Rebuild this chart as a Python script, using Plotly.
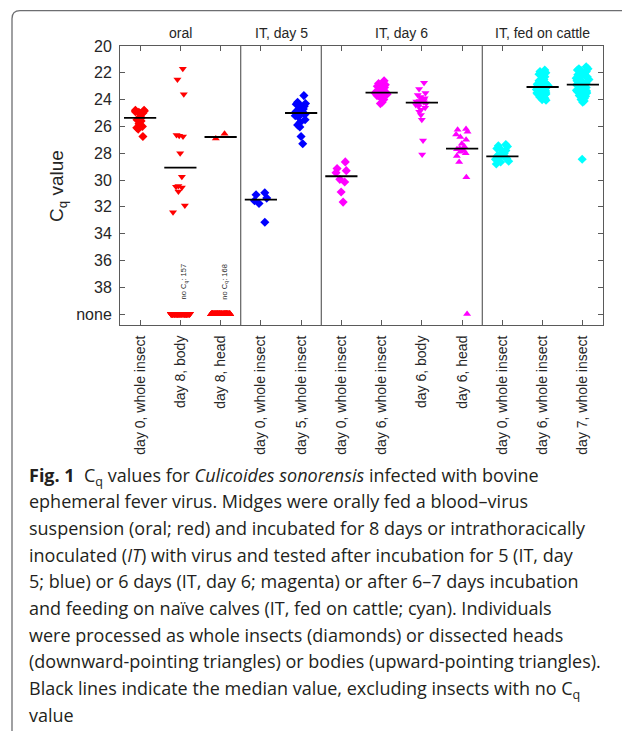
import plotly.graph_objects as go

# ---------------- data ----------------
category_labels = [
    "day 0, whole insect", "day 8, body", "day 8, head",
    "day 0, whole insect", "day 5, whole insect",
    "day 0, whole insect", "day 6, whole insect", "day 6, body", "day 6, head",
    "day 0, whole insect", "day 6, whole insect", "day 7, whole insect",
]
panel_titles = ["oral", "IT, day 5", "IT, day 6", "IT, fed on cattle"]
panel_sizes = [3, 2, 4, 3]
panel_colors = ["#FF0000", "#0000FF", "#FF00FF", "#00FFFF"]

y_tick_vals = [20, 22, 24, 26, 28, 30, 32, 34, 36, 38, 40]
y_tick_text = ["20", "22", "24", "26", "28", "30", "32", "34", "36", "38", "none"]
NONE_Y = 40

# sample type per category: whole insect / body / head
sample_type = ["whole", "body", "head", "whole", "whole",
               "whole", "whole", "body", "head", "whole", "whole", "whole"]

oral_d0 = [24.8, 24.8, 24.85, 24.9, 24.95, 25.0, 25.05, 25.35, 25.4, 25.5,
           25.6, 25.8, 26.0, 26.1, 26.2, 26.75]
oral_d8_body = [21.7, 22.5, 23.6, 26.65, 26.7, 26.75, 28.0, 29.75, 30.45,
                30.5, 30.55, 30.85, 31.9, 32.4]
oral_d8_head = [26.55, 26.9]
it5_d0 = [30.95, 31.1, 31.35, 31.55, 31.75, 33.15]
it5_d5 = [23.7, 24.2, 24.3, 24.35, 24.4, 24.5, 24.6, 24.7, 24.8, 24.9, 25.0,
          25.05, 25.1, 25.2, 25.3, 25.5, 25.7, 25.9, 26.05, 26.75, 27.3]
it6_d0 = [28.65, 29.15, 29.3, 29.45, 29.95, 30.15, 30.9, 31.65]
it6_d6_whole = [22.6, 22.8, 22.9, 23.0, 23.1, 23.1, 23.2, 23.3, 23.3, 23.4,
                23.4, 23.5, 23.5, 23.5, 23.6, 23.6, 23.7, 23.7, 23.8, 23.9,
                24.0, 24.2, 24.3]
it6_d6_body = [22.75, 23.2, 23.5, 23.65, 23.8, 23.9, 24.0, 24.05, 24.1, 24.15,
               24.2, 24.25, 24.3, 24.4, 24.5, 24.6, 24.75, 24.9, 25.15, 25.5,
               27.05, 28.1]
it6_d6_head = [26.2, 26.25, 26.4, 26.6, 26.8, 27.0, 27.3, 27.5, 27.65, 27.7,
               27.8, 27.9, 28.0, 28.2, 28.65, 29.8]
cattle_d0 = [27.35, 27.45, 27.5, 27.65, 27.7, 27.8, 27.95, 28.0, 28.1, 28.2,
             28.25, 28.3, 28.4, 28.45, 28.5, 28.6, 28.65, 28.8]
cattle_d6 = [21.8, 21.9, 22.0, 22.1, 22.2, 22.3, 22.4, 22.5, 22.55, 22.6,
             22.7, 22.75, 22.8, 22.85, 22.9, 22.95, 23.0, 23.05, 23.1, 23.1,
             23.15, 23.2, 23.2, 23.25, 23.3, 23.3, 23.35, 23.4, 23.4, 23.5,
             23.5, 23.6, 23.6, 23.7, 23.75, 23.8, 23.9, 24.0, 24.05]
cattle_d7 = [21.55, 21.7, 21.7, 21.8, 21.85, 21.9, 22.0, 22.0, 22.1, 22.15,
             22.2, 22.3, 22.3, 22.4, 22.45, 22.5, 22.6, 22.6, 22.7, 22.75,
             22.8, 22.85, 22.9, 22.9, 23.0, 23.05, 23.1, 23.2, 23.2, 23.3,
             23.35, 23.4, 23.5, 23.5, 23.6, 23.7, 23.75, 23.85, 23.9, 24.0,
             24.1, 24.2, 28.45]

group_values = [oral_d0, oral_d8_body, oral_d8_head, it5_d0, it5_d5, it6_d0,
                it6_d6_whole, it6_d6_body, it6_d6_head, cattle_d0, cattle_d6,
                cattle_d7]
# insects with no Cq per category
none_counts = [0, 157, 168, 0, 0, 0, 0, 0, 1, 0, 0, 0]
# median lines as drawn in the reference
medians = [25.37, 29.08, 26.79, 31.46, 25.0, 29.72, 23.48, 24.23, 27.66,
           28.23, 23.06, 22.88]

caption_lines = [
    "<b>Fig. 1</b>\u00a0\u00a0C<sub>q</sub> values for <i>Culicoides sonorensis</i> infected with bovine",
    "ephemeral fever virus. Midges were orally fed a blood\u2013virus",
    "suspension (oral; red) and incubated for 8 days or intrathoracically",
    "inoculated (<i>IT</i>) with virus and tested after incubation for 5 (IT, day",
    "5; blue) or 6 days (IT, day 6; magenta) or after 6\u20137 days incubation",
    "and feeding on na\u00efve calves (IT, fed on cattle; cyan). Individuals",
    "were processed as whole insects (diamonds) or dissected heads",
    "(downward-pointing triangles) or bodies (upward-pointing triangles).",
    "Black lines indicate the median value, excluding insects with no C<sub>q</sub>",
    "value",
]

# ---------------- layout geometry ----------------
W, H = 622, 731
ML, MR, MT, MB = 120, 19, 46, 406
PW = W - ML - MR
PH = H - MT - MB


def px2x(px):
    return (px - ML) / PW


def py2y(py):
    return 1 - (py - MT) / PH


symbol_map = {"whole": "diamond", "body": "triangle-down", "head": "triangle-up"}

# colour per category from panels
cat_colors = []
for c, n in zip(panel_colors, panel_sizes):
    cat_colors += [c] * n

positions = list(range(1, len(category_labels) + 1))

fig = go.Figure()

for i, pos in enumerate(positions):
    sym = symbol_map[sample_type[i]]
    col = cat_colors[i]
    vals = group_values[i]
    fig.add_trace(go.Box(
        y=vals, x0=pos, width=0.5, boxpoints="all", jitter=0.75, pointpos=0,
        fillcolor="rgba(0,0,0,0)", line=dict(width=0, color="rgba(0,0,0,0)"),
        whiskerwidth=0,
        marker=dict(symbol=sym, size=7, color=col, line=dict(width=0)),
        hoverinfo="skip", showlegend=False,
    ))
    if none_counts[i] > 0:
        fig.add_trace(go.Box(
            y=[NONE_Y] * none_counts[i], x0=pos, width=0.5, boxpoints="all",
            jitter=0.95, pointpos=0,
            fillcolor="rgba(0,0,0,0)", line=dict(width=0, color="rgba(0,0,0,0)"),
            whiskerwidth=0,
            marker=dict(symbol=sym, size=7, color=col, line=dict(width=0)),
            hoverinfo="skip", showlegend=False,
        ))

# median lines
mx, my = [], []
for pos, m in zip(positions, medians):
    mx += [pos - 0.4, pos + 0.4, None]
    my += [m, m, None]
fig.add_trace(go.Scatter(x=mx, y=my, mode="lines",
                         line=dict(color="black", width=1.8),
                         hoverinfo="skip", showlegend=False))

shapes = []
annotations = []

# panel dividers and titles
start = 0.5
for k, n in enumerate(panel_sizes):
    end = start + n
    if k < len(panel_sizes) - 1:
        shapes.append(dict(type="line", xref="x", yref="paper", x0=end, x1=end,
                           y0=0, y1=1, line=dict(color="#404040", width=1)))
    annotations.append(dict(text=panel_titles[k], xref="x", yref="paper",
                            x=(start + end) / 2, y=py2y(33), showarrow=False,
                            xanchor="center", yanchor="middle",
                            font=dict(family="Liberation Sans, Arial", size=14,
                                      color="#262626")))
    start = end

# no-Cq annotations
for i, pos in enumerate(positions):
    if none_counts[i] > 1:
        annotations.append(dict(
            text="no C<sub>q</sub>: %d" % none_counts[i], xref="x", yref="paper",
            x=pos, xshift=4, y=py2y(282), textangle=-90, showarrow=False,
            xanchor="center", yanchor="middle",
            font=dict(family="Liberation Sans, Arial", size=7.5, color="#262626")))

# y-axis title
annotations.append(dict(text="C<sub>q</sub> value", xref="paper", yref="paper",
                        x=px2x(58), y=py2y(186), textangle=-90, showarrow=False,
                        xanchor="center", yanchor="middle",
                        font=dict(family="Liberation Sans, Arial", size=19,
                                  color="#262626")))

# caption
cap_y0, cap_step = 473, 26.7
for j, line in enumerate(caption_lines):
    annotations.append(dict(text=line, xref="paper", yref="paper",
                            x=px2x(27), y=py2y(cap_y0 + j * cap_step - 12.5),
                            xanchor="left", yanchor="top", align="left",
                            showarrow=False,
                            font=dict(family="Open Sans", size=18,
                                      color="#231f20")))

# page frame with rounded top-left corner
fx0, fy0 = 12, 10.7
r = 8
path = "M %f,%f L %f,%f Q %f,%f %f,%f L %f,%f" % (
    px2x(fx0), py2y(H), px2x(fx0), py2y(fy0 + r), px2x(fx0), py2y(fy0),
    px2x(fx0 + r), py2y(fy0), px2x(W + 2), py2y(fy0))
shapes.append(dict(type="path", xref="paper", yref="paper", path=path,
                   line=dict(color="#6d6e71", width=1.3)))

axis_line = "#5a5a5a"
fig.update_layout(
    width=W, height=H,
    margin=dict(l=ML, r=MR, t=MT, b=MB, pad=0),
    paper_bgcolor="white", plot_bgcolor="white",
    showlegend=False,
    shapes=shapes, annotations=annotations,
    xaxis=dict(range=[0.5, len(positions) + 0.5], tickmode="array",
               tickvals=positions, ticktext=category_labels, tickangle=-90,
               ticks="inside", ticklen=5, tickcolor=axis_line, showline=True,
               linecolor=axis_line, linewidth=1, mirror="allticks",
               showgrid=False, zeroline=False, ticklabelstandoff=4,
               tickfont=dict(family="Liberation Sans, Arial", size=14,
                             color="#262626")),
    yaxis=dict(range=[40.82, 20], tickmode="array", tickvals=y_tick_vals,
               ticktext=y_tick_text, ticks="inside", ticklen=5,
               tickcolor=axis_line, showline=True, linecolor=axis_line,
               linewidth=1, mirror="allticks", showgrid=False, zeroline=False,
               ticklabelstandoff=4,
               tickfont=dict(family="Liberation Sans, Arial", size=16,
                             color="#262626")),
)

fig.write_html("out.html", config={"displayModeBar": False},
               post_script="document.body.style.margin='0';"
                           "document.body.style.overflow='hidden';")
